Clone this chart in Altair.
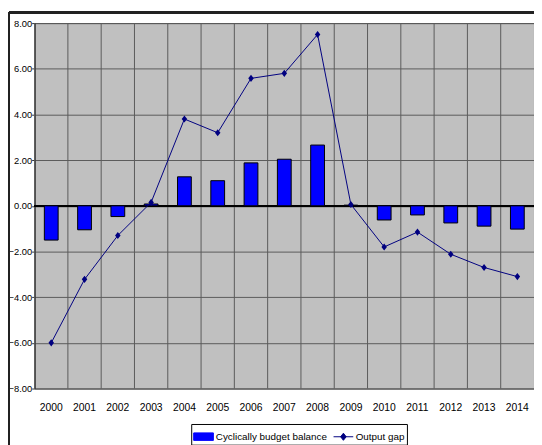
import altair as alt
import pandas as pd

years = [str(y) for y in range(2000, 2015)]
cyclical_balance = [-1.5, -1.05, -0.47, 0.08, 1.27, 1.1, 1.88, 2.04, 2.66, 0.03, -0.62, -0.4, -0.75, -0.89, -1.02]
output_gap = [-6.0, -3.22, -1.3, 0.15, 3.8, 3.2, 5.58, 5.8, 7.5, 0.06, -1.8, -1.15, -2.12, -2.7, -3.1]
series_names = ["Cyclically budget balance", "Output gap"]
y_ticks = [-8, -6, -4, -2, 0, 2, 4, 6, 8]

bars_df = pd.DataFrame({"year": years, "value": cyclical_balance, "series": series_names[0]})
line_df = pd.DataFrame({"year": years, "value": output_gap, "series": series_names[1]})
years_df = pd.DataFrame({"year": years})

FONT = "Liberation Sans, Arial"

x_scale = alt.Scale(domain=years, paddingInner=0, paddingOuter=0)
y_scale = alt.Scale(domain=[-8, 8], nice=False)
color_scale = alt.Scale(domain=series_names, range=["#0000FF", "#000080"])
shape_scale = alt.Scale(
    domain=series_names,
    range=["M-1,-0.38H1V0.38H-1Z", "M-1,0H1M0,-0.36L0.28,0L0,0.36L-0.28,0Z"],
)
legend = alt.Legend(
    title=None,
    orient="none",
    legendX=159,
    legendY=407,
    direction="horizontal",
    symbolStrokeColor="#000040",
    symbolStrokeWidth=1,
)

x_axis = alt.Axis(title=None, labelAngle=0, ticks=False, domain=False, grid=False,
                  labelPadding=14, labelFont=FONT, labelFontSize=10.5, labelColor="#000")
y_axis = alt.Axis(title=None, values=y_ticks, format=".2f", grid=True, gridColor="#5a5a5a",
                  gridWidth=1, domainColor="#333", tickColor="#333", tickSize=3,
                  labelFont=FONT, labelFontSize=9.5, labelColor="#000", labelPadding=0)

vgrid = alt.Chart(years_df).mark_rule(color="#5a5a5a", strokeWidth=1).encode(
    x=alt.X("year:N", scale=x_scale, bandPosition=0, axis=x_axis)
)

bars = alt.Chart(bars_df).mark_bar(width=14, stroke="#000", strokeWidth=1).encode(
    x=alt.X("year:N", scale=x_scale, axis=x_axis),
    y=alt.Y("value:Q", scale=y_scale, axis=y_axis),
    color=alt.Color("series:N", scale=color_scale, legend=legend),
)

zero = alt.Chart(years_df).mark_rule(color="#000", strokeWidth=1.5).encode(
    y=alt.datum(0, scale=y_scale)
)

line = alt.Chart(line_df).mark_line(strokeWidth=1).encode(
    x=alt.X("year:N", scale=x_scale, axis=x_axis),
    y=alt.Y("value:Q", scale=y_scale, axis=y_axis),
    color=alt.Color("series:N", scale=color_scale, legend=legend),
)

points = alt.Chart(line_df).mark_point(filled=True, size=400, opacity=1).encode(
    x=alt.X("year:N", scale=x_scale, axis=x_axis),
    y=alt.Y("value:Q", scale=y_scale, axis=y_axis),
    color=alt.Color("series:N", scale=color_scale, legend=legend),
    shape=alt.Shape("series:N", scale=shape_scale, legend=legend),
)

frame_top = alt.Chart(years_df).mark_rule(color="#222", strokeWidth=2).encode(
    x=alt.value(-26), x2=alt.value(520), y=alt.value(-11)
)
frame_left = alt.Chart(years_df).mark_rule(color="#222", strokeWidth=1.5).encode(
    x=alt.value(-26), y=alt.value(-11), y2=alt.value(440)
)

chart = alt.layer(vgrid, zero, bars, line, points, frame_top, frame_left).properties(
    width=507,
    height=371,
    autosize=alt.AutoSizeParams(type="none"),
    padding={"left": 27, "top": 12, "right": 0, "bottom": 54},
    background="#ffffff",
).configure_view(
    fill="#C0C0C0", stroke="#404040", strokeWidth=1
).configure_legend(
    strokeColor="#000", padding=2, labelFont=FONT, labelFontSize=10, labelColor="#000",
    symbolSize=400, columnPadding=4, cornerRadius=0, labelOffset=2,
)

chart.save("out.html", embed_options={"renderer": "svg", "actions": False})
